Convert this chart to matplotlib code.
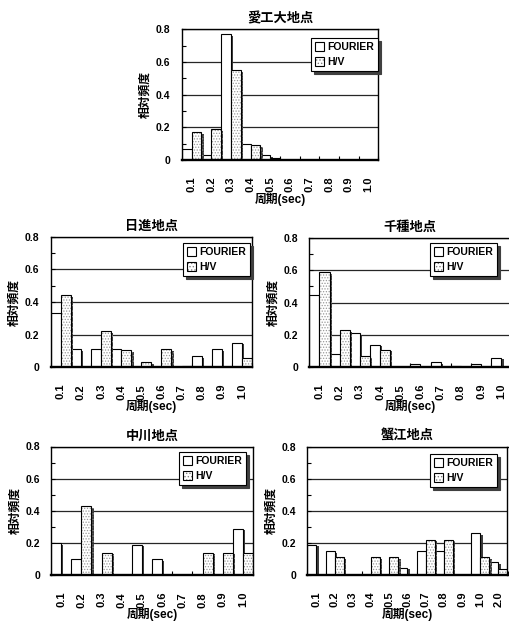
import matplotlib
matplotlib.use('Agg')
import matplotlib.pyplot as plt
import numpy as np
from matplotlib import patheffects as pe
from matplotlib.patches import Patch
from matplotlib.ticker import FixedLocator

plt.rcParams['font.family'] = ['Liberation Sans', 'Noto Sans CJK JP']
plt.rcParams['hatch.linewidth'] = 0.6

# ---------------- data ----------------
periods10 = ['0.1', '0.2', '0.3', '0.4', '0.5', '0.6', '0.7', '0.8', '0.9', '1.0']
periods11 = ['0.1', '0.2', '0.3', '0.4', '0.5', '0.6', '0.7', '0.8', '0.9', '1.0', '2.0']
series_names = ['FOURIER', 'H/V']

aikoudai_fourier = [0.07, 0.03, 0.77, 0.10, 0.03, 0, 0, 0, 0, 0]
aikoudai_hv      = [0.17, 0.19, 0.55, 0.09, 0.01, 0, 0, 0, 0, 0]

nisshin_fourier = [0.33, 0.11, 0.11, 0.11, 0, 0, 0, 0.07, 0.11, 0.15]
nisshin_hv      = [0.44, 0, 0.22, 0.105, 0.03, 0.11, 0.01, 0, 0, 0.055]

chikusa_fourier = [0.45, 0.08, 0.21, 0.14, 0, 0.02, 0.03, 0.01, 0.02, 0.06]
chikusa_hv      = [0.59, 0.23, 0.07, 0.11, 0, 0, 0, 0, 0, 0]

nakagawa_fourier = [0.20, 0.10, 0, 0, 0.19, 0.10, 0, 0, 0, 0.29]
nakagawa_hv      = [0, 0.43, 0.14, 0, 0, 0, 0, 0.14, 0.14, 0.14]

kanie_fourier = [0.19, 0.15, 0, 0, 0, 0.045, 0.15, 0.15, 0, 0.26, 0.08]
kanie_hv      = [0, 0.11, 0, 0.11, 0.11, 0, 0.22, 0.22, 0, 0.11, 0.04]

y_ticks = [0, 0.2, 0.4, 0.6, 0.8]
y_ticklabels = ['0', '0.2', '0.4', '0.6', '0.8']

# ---------------- figure ----------------
W, H = 509, 625
fig = plt.figure(figsize=(W / 100, H / 100), dpi=100)

shadow = [pe.SimplePatchShadow(offset=(1.7, -1.2), shadow_rgbFace='0.2', alpha=0.95), pe.Normal()]


def draw(rect_px, title, cats, f, hv, legend_px):
    l, t, r, b = rect_px
    ax = fig.add_axes([l / W, 1 - b / H, (r - l) / W, (b - t) / H])
    x = np.arange(len(cats))
    f = np.asarray(f, dtype=float)
    hv = np.asarray(hv, dtype=float)
    mf = f > 0
    mh = hv > 0
    ax.bar(x[mf] - 0.25, f[mf], width=0.5, color='white', edgecolor='black',
           lw=0.8, path_effects=shadow, zorder=2)
    ax.bar(x[mh] + 0.25, hv[mh], width=0.5, color='white', edgecolor='0.6',
           lw=0, hatch='......', path_effects=shadow, zorder=2)
    ax.bar(x[mh] + 0.25, hv[mh], width=0.5, fill=False, edgecolor='black',
           lw=0.8, zorder=3)

    ax.set_xlim(-0.5, len(cats) - 0.5)
    ax.set_ylim(0, 0.8)
    ax.set_yticks(y_ticks)
    ax.set_yticklabels(y_ticklabels, fontsize=7.5, fontweight='bold')
    ax.yaxis.set_minor_locator(FixedLocator([0.1, 0.3, 0.5, 0.7]))
    ax.tick_params(axis='y', which='both', direction='in', length=3, width=0.8, pad=8)

    ax.set_xticks(x)
    ax.set_xticklabels(cats, rotation=90, fontsize=8, fontweight='bold')
    ax.xaxis.set_minor_locator(FixedLocator(np.arange(-0.5, len(cats), 0.5)))
    ax.tick_params(axis='x', which='major', length=0, pad=12)
    ax.tick_params(axis='x', which='minor', direction='in', length=3, width=0.8)

    ax.yaxis.grid(True, color='0.15', lw=0.9)
    ax.set_axisbelow(True)
    for s in ax.spines.values():
        s.set_linewidth(1.0)
        s.set_color('black')
    ax.spines['bottom'].set_linewidth(1.7)

    ax.set_title(title, fontsize=9.5, fontweight='bold', pad=5)
    ax.set_ylabel('相対頻度', fontsize=8.5, fontweight='bold', labelpad=3)
    ax.set_xlabel('周期(sec)', fontsize=8.5, fontweight='bold', labelpad=0.5)

    hf = Patch(facecolor='white', edgecolor='black', lw=0.8)
    hh1 = Patch(facecolor='white', edgecolor='0.5', lw=0, hatch='.....')
    hh2 = Patch(fill=False, edgecolor='black', lw=0.8)
    rx, ty = legend_px
    leg = ax.legend([hf, (hh1, hh2)], series_names, loc='upper right',
                    bbox_to_anchor=(rx / W, 1 - ty / H), bbox_transform=fig.transFigure,
                    borderaxespad=0, frameon=True, fancybox=False,
                    shadow={'color': '0.25', 'alpha': 1}, framealpha=1,
                    edgecolor='black', prop=dict(size=7.5, weight='bold'),
                    handlelength=0.9, handleheight=0.9, handletextpad=0.25,
                    borderpad=0.4, labelspacing=0.45)
    leg.get_frame().set_linewidth(0.8)
    return ax


draw((181.7, 29.3, 378.3, 160), '愛工大地点', periods10, aikoudai_fourier, aikoudai_hv, (378, 38))
draw((50.7, 236.7, 252, 367.3), '日進地点', periods10, nisshin_fourier, nisshin_hv, (250, 243))
draw((309.3, 238, 511.3, 367.3), '千種地点', periods10, chikusa_fourier, chikusa_hv, (497, 243))
draw((51, 446.5, 253, 575.3), '中川地点', periods10, nakagawa_fourier, nakagawa_hv, (246, 452))
draw((307.3, 446.7, 507.5, 575), '蟹江地点', periods11, kanie_fourier, kanie_hv, (497, 454))

fig.savefig('out.png', dpi=100, facecolor='white')
